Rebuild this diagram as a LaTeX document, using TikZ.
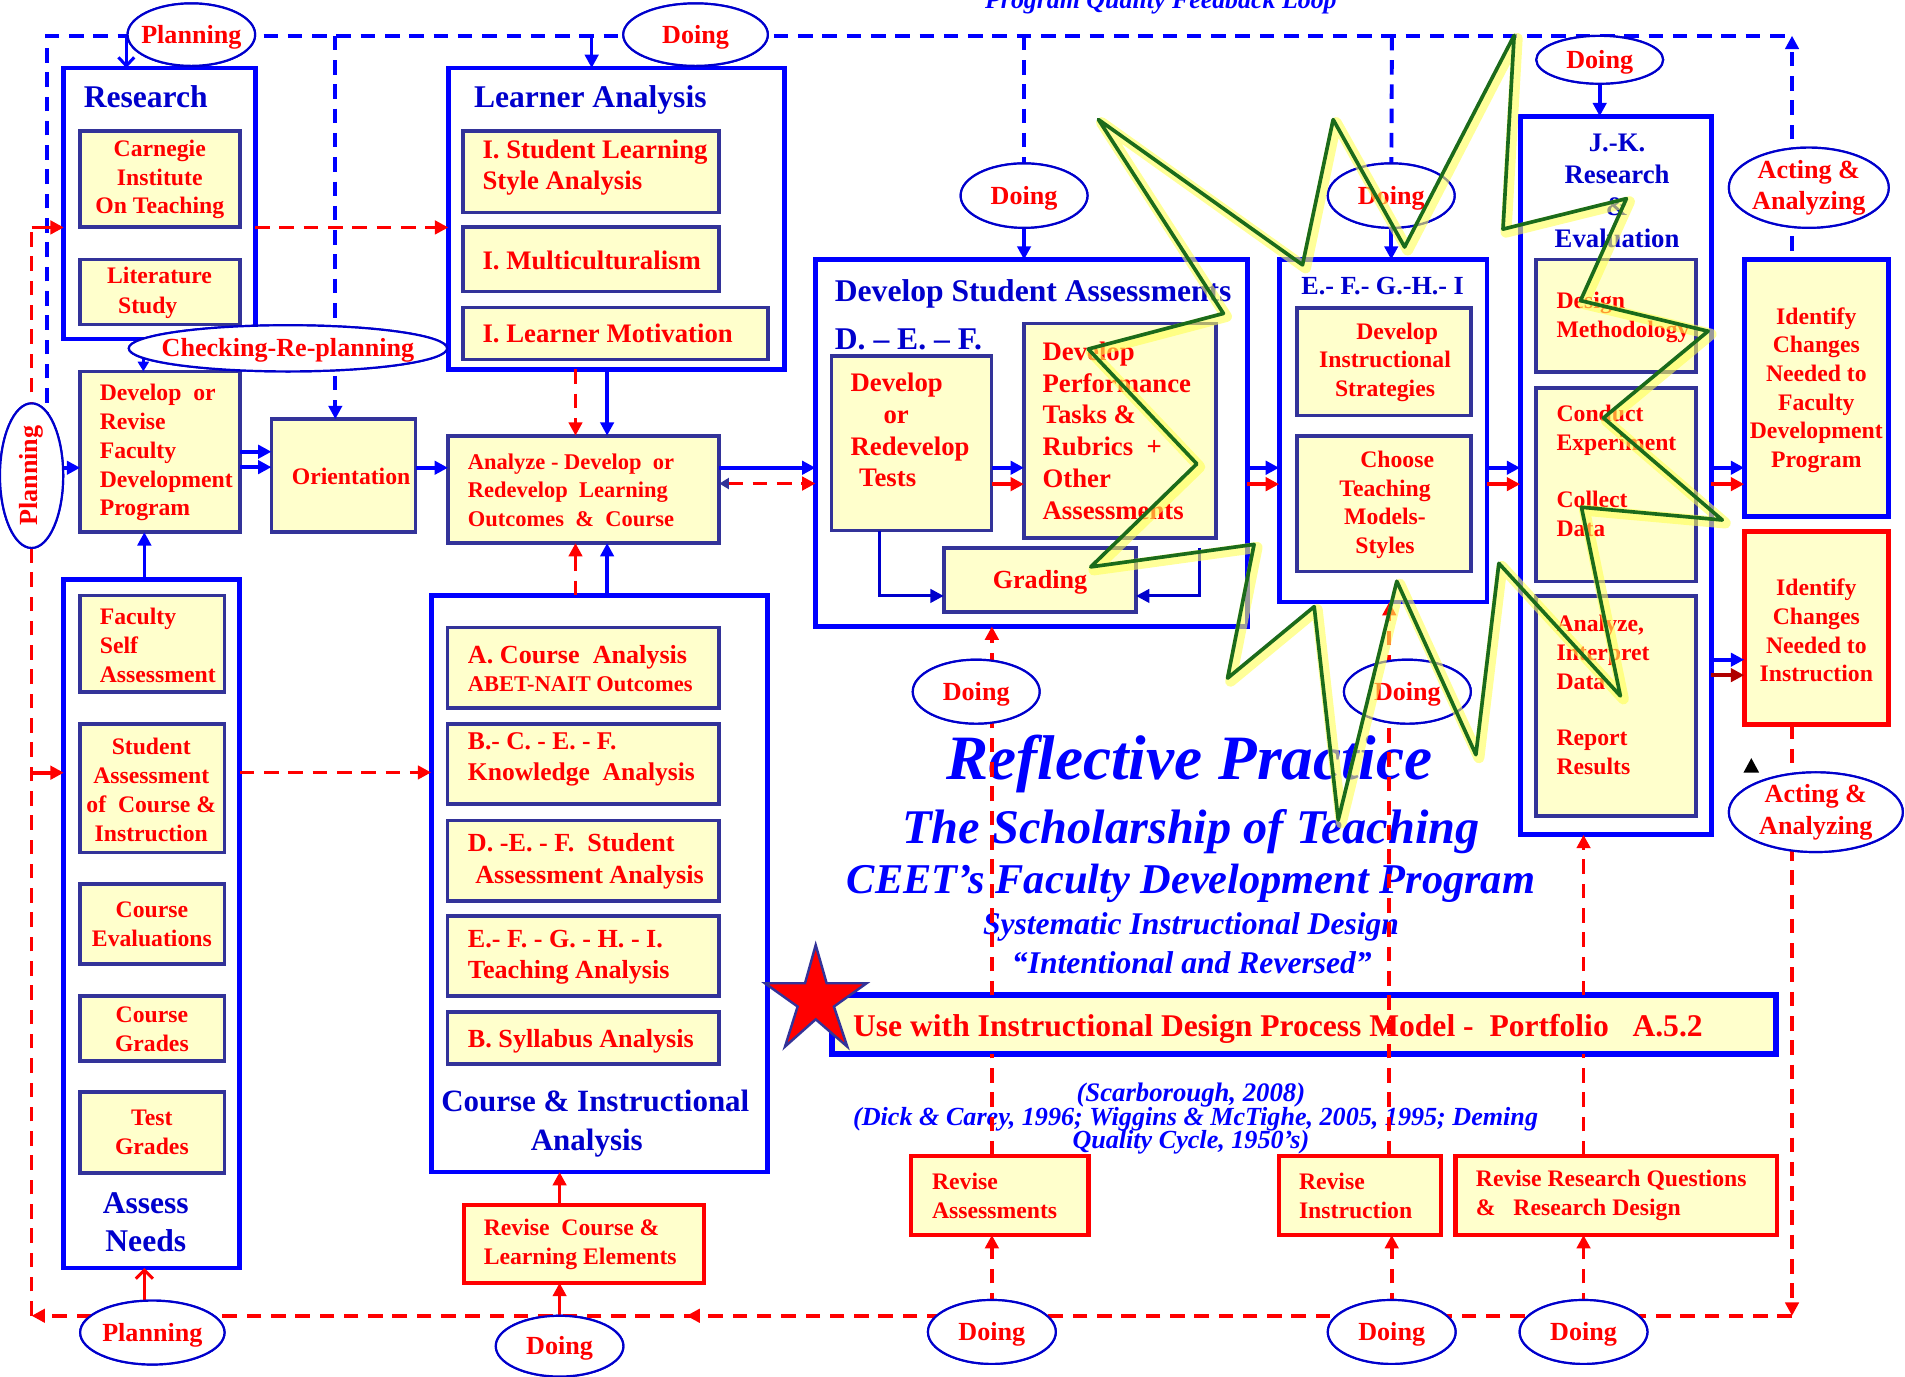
\documentclass[tikz,border=0pt]{standalone}
\usepackage{fontspec}
\setmainfont{Liberation Serif}
\usetikzlibrary{arrows.meta,shapes.geometric,decorations.markings}
\definecolor{bbox}{HTML}{0000FF}
\definecolor{nbox}{HTML}{333399}
\definecolor{yfill}{HTML}{FFFFCC}
\definecolor{tblue}{HTML}{0000CC}
\definecolor{ired}{HTML}{FF0000}
\definecolor{dred}{HTML}{B00000}
\definecolor{sgreen}{HTML}{1B6B1B}
\definecolor{glow}{HTML}{FFFF55}
\newcommand\fz[2]{\fontsize{#1}{#2}\selectfont}
\newcommand\mkbox[6]{\node[#1,minimum width={#4-#2},minimum height={#5-#3}] (#6) at ({(#2+#4)/2},{(#3+#5)/2}) {};}
\newcommand\mkell[5]{\node[el,minimum width={2*#3},minimum height={2*#4}] (#5) at (#1,#2) {};}
\begin{document}
\begin{tikzpicture}[x=1pt,y=-1pt,
  >={Triangle[length=11pt,width=11pt]},
  ob/.style={rectangle,draw=bbox,line width=4,inner sep=0,outer sep=0},
  ib/.style={rectangle,draw=nbox,fill=yfill,line width=3,inner sep=0,outer sep=0},
  rb/.style={rectangle,draw=ired,fill=yfill,line width=3.5,inner sep=0,outer sep=0},
  el/.style={ellipse,draw=tblue,line width=1.8,fill=white,inner sep=0,outer sep=0},
  rt/.style={text=ired,inner sep=0},
  bt/.style={text=tblue,inner sep=0},
  it/.style={text=bbox,inner sep=0,anchor=base},
  bd/.style={draw=bbox,line width=3.2,dash pattern=on 12pt off 8pt},
  rd/.style={draw=ired,line width=3,dash pattern=on 12pt off 8pt},
  ba/.style={draw=bbox,line width=3,->},
  ra/.style={draw=ired,line width=3,->},
  na/.style={draw=tblue,line width=2.5,->},
]
\useasboundingbox (0,0) rectangle (1568,1133);

% ---------- outer boxes ----------
\mkbox{ob}{52.5}{56}{210}{279}{research}
\mkbox{ob}{369}{56}{646}{304}{learner}
\mkbox{ob}{52.5}{477}{197.4}{1043.7}{assess}
\mkbox{ob}{354.9}{490}{632}{964.7}{course}
\mkbox{ob}{671.2}{213.7}{1026.7}{515.6}{dsa}
\mkbox{ob}{1052.8}{213.7}{1223.9}{495.5}{efg}
\mkbox{ob}{1251.2}{95.7}{1408.4}{687.1}{jk}
\mkbox{ob,fill=yfill}{1435.6}{213.7}{1554.6}{425}{id1}
\mkbox{rb,line width=4}{1435.6}{437.4}{1554.6}{596.3}{id2}
\mkbox{ob,fill=yfill,line width=5}{684.5}{819.3}{1461.7}{867.5}{banner}

% ---------- inner boxes ----------
\mkbox{ib}{66}{108}{197.5}{187}{carn}
\mkbox{ib}{66}{213.7}{197.5}{267}{lit}
\mkbox{ib}{66}{305.7}{197.5}{438}{fac}
\mkbox{ib}{223.4}{345}{342}{438}{orient}
\mkbox{ib}{368.7}{358.6}{592}{447}{anal}
\mkbox{ib}{381}{108}{592}{175}{sls}
\mkbox{ib}{381}{187}{592}{240}{mult}
\mkbox{ib}{381}{253}{632}{296}{motiv}
\mkbox{ib}{66}{490}{184.8}{569.4}{fsa}
\mkbox{ib}{66}{596}{184.8}{701.8}{sac}
\mkbox{ib}{66}{727.5}{184.8}{793.5}{cev}
\mkbox{ib}{66}{820}{184.8}{873.3}{cgr}
\mkbox{ib}{66}{898.9}{184.8}{965.6}{tgr}
\mkbox{ib}{368.3}{516.6}{592}{583}{ca}
\mkbox{ib}{368.3}{596}{592}{661.5}{cb}
\mkbox{ib}{368.3}{675.2}{592}{741.6}{cd}
\mkbox{ib}{368.3}{753.7}{592}{820}{ce}
\mkbox{ib}{368.3}{833}{592}{875.8}{cs}
\mkbox{ib}{684.5}{292.9}{816.2}{436.7}{tests}
\mkbox{ib}{842.8}{266.4}{1000.7}{442.8}{perf}
\mkbox{ib}{776.8}{450.8}{935}{503.8}{grad}
\mkbox{ib}{1067.3}{253.6}{1210.6}{342}{dis}
\mkbox{ib}{1067.3}{358.8}{1210.6}{470.3}{cho}
\mkbox{ib}{1264.5}{213.7}{1396.2}{306.4}{dm}
\mkbox{ib}{1264.5}{319.2}{1396.2}{478.7}{cexp}
\mkbox{ib}{1264.5}{490.5}{1396.2}{671.6}{aid}
\mkbox{rb}{382}{991.6}{579.5}{1055.9}{rcl}
\mkbox{rb}{750}{951.2}{896}{1016.5}{ras}
\mkbox{rb}{1053}{951.2}{1185.8}{1016.5}{rin}
\mkbox{rb}{1197.9}{951.2}{1462.4}{1016.5}{rrq}

% ---------- big italic texts ----------
\node[it,font=\bfseries\itshape\fz{21.3}{24}] (prog) at (955.5,7) {Program Quality Feedback Loop};
\node[it,font=\bfseries\itshape\fz{52}{60}] (refl) at (979,642) {Reflective Practice};
\node[it,font=\bfseries\itshape\fz{39.8}{46}] (schol) at (980.3,694.4) {The Scholarship of Teaching};
\node[it,font=\bfseries\itshape\fz{34.9}{40}] (ceet) at (980.3,735.3) {CEET’s Faculty Development Program};
\node[it,font=\bfseries\itshape\fz{26}{30}] (syst) at (980.3,769) {Systematic Instructional Design};
\node[it,font=\bfseries\itshape\fz{26}{30}] (inte) at (981,801.2) {“Intentional and Reversed”};
\node[it,font=\bfseries\itshape\fz{22}{24}] (scar) at (980.2,906.5) {(Scarborough, 2008)};
\node[it,font=\bfseries\itshape\fz{21.5}{24}] (dick) at (984.1,926.7) {(Dick \& Carey, 1996; Wiggins \& McTighe, 2005, 1995; Deming};
\node[it,font=\bfseries\itshape\fz{21.5}{24}] (qual) at (980.2,945.4) {Quality Cycle, 1950’s)};

% ---------- connectors ----------
\coordinate (tl) at (39,29.4);
\coordinate (tr) at (1475,29.4);
\coordinate (bl) at (26,1083);
\coordinate (br) at (1475,1083);
\coordinate (rl) at (26,187.2);

% ellipses defined first as coordinates for lines (drawn later on top)
\mkell{157.5}{28.5}{52.5}{25.7}{pl1}
\mkell{572.5}{28.5}{59.5}{25.7}{do1}
\mkell{237}{286.7}{131}{19}{chk}
\mkell{26}{391.5}{26}{59.5}{pl2}
\mkell{842.9}{161}{52.2}{26.5}{do2}
\mkell{1145.1}{161}{52.2}{26.5}{do3}
\mkell{1316.7}{49.2}{52.2}{19.7}{do4}
\mkell{1488.8}{154.5}{65.8}{33}{ac1}
\mkell{803.5}{569.3}{52.2}{26.3}{do5}
\mkell{1158.4}{569.3}{52.2}{26.3}{do6}
\mkell{1494.6}{668.5}{71.6}{32.8}{ac2}
\mkell{125.4}{1096.8}{59.4}{26.3}{pl3}
\mkell{460.6}{1108}{52.5}{25}{do7}
\mkell{816.4}{1096.3}{52.6}{26.3}{do8}
\mkell{1145.5}{1096.3}{52.6}{26.3}{do9}
\mkell{1303.4}{1096.3}{52.6}{26.3}{do10}

\begin{scope}[on background layer/.style={}]
\end{scope}

% blue dashed loop (top)
\draw[bd] (pl2.center -| tl) -- (tl) -- (tr);
\draw[draw=bbox,line width=2.5,-{Straight Barb[length=7pt,width=13pt]}] (tl -| 104,0) -- (research.north -| 104,0);
\draw[bd,->] (tl -| 276,0) -- (orient.north -| 276,0);
\draw[ba] (tl -| 487,0) -- (learner.north -| 487,0);
\draw[bd] (tl -| 842.9,0) -- (do2.center);
\draw[ba] (do2.south) -- (dsa.north -| do2.south);
\draw[bd] (tl -| 1145.7,0) -- (do3.center);
\draw[ba] (do3.south) -- (efg.north -| do3.south);
\draw[ba] (do4.south) -- (jk.north -| do4.south);
\draw[bd,->] (ac1.center -| tr) -- (tr);
\draw[bd] (ac1.center -| tr) -- (id1.north -| tr);

% red dashed loop (bottom / left)
\draw[rd,->] (id2.south -| tr) -- (br);
\draw[rd,->,postaction={decorate,decoration={markings,mark=at position 0.628 with {\arrow{>}}}}] (br) -- (bl);
\draw[rd] (bl) -- (rl);
\draw[ra] (rl) -- (research.west |- rl);
\draw[ra] (bl |- 0,636) -- (assess.west |- 0,636);

% left column
\draw[rd,->] (research.east |- rl) -- (learner.west |- rl);
\draw[rd,->] (learner.south -| 473.7,0) -- (anal.north -| 473.7,0);
\draw[ba] (learner.south -| 499.7,0) -- (anal.north -| 499.7,0);
\draw[rd,->] (course.north -| 473.7,0) -- (anal.south -| 473.7,0);
\draw[ba] (course.north -| 499.7,0) -- (anal.south -| 499.7,0);
\draw[ba] (fac.east |- 0,371.8) -- (orient.west |- 0,371.8);
\draw[ba] (fac.east |- 0,384.5) -- (orient.west |- 0,384.5);
\draw[ba] (orient.east |- 0,385) -- (anal.west |- 0,385);
\draw[ba] (pl2.east |- 0,385) -- (fac.west |- 0,385);
\draw[draw=bbox,line width=2.5,-{Triangle[length=8pt,width=9pt]}] (chk.center -| 118,0) -- (fac.north -| 118,0);
\draw[ba] (assess.north -| 118.8,0) -- (fac.south -| 118.8,0);
\draw[rd,->] (assess.east |- 0,635.8) -- (course.west |- 0,635.8);
\draw[draw=ired,line width=2.5,-{Straight Barb[length=7pt,width=14pt]}] (pl3.center -| 118.8,0) -- (assess.south -| 118.8,0);
\draw[ra] (do7.center) -- (rcl.south -| do7.center);
\draw[ra] (rcl.north -| do7.center) -- (course.south -| do7.center);

% main chain
\draw[ba] (anal.east |- 0,385) -- (dsa.west |- 0,385);
\draw[rd,arrows={Triangle[length=8pt,width=9pt,color=nbox]-Triangle[length=11pt,width=11pt]}] (anal.east |- 0,398) -- (dsa.west |- 0,398);
\foreach \a/\b in {dsa/efg,efg/jk,jk/id1,tests/perf}{
  \draw[ba] (\a.east |- 0,385) -- (\b.west |- 0,385);
  \draw[ra] (\a.east |- 0,398.5) -- (\b.west |- 0,398.5);
}
\draw[ba] (jk.east |- 0,543) -- (id2.west |- 0,543);
\draw[ra,draw=dred] (jk.east |- 0,555.7) -- (id2.west |- 0,555.7);
\draw[na] (tests.south -| 724,0) |- (grad.west |- 0,490.5);
\draw[na] (grad.north -| 987.3,0) |- (grad.east |- 0,490.5);

% red verticals from the bottom
\draw[rd,->] (do8.center) -- (ras.south -| do8.center);
\draw[rd] (ras.north -| do8.center) -- (banner.south -| do8.center);
\draw[rd] (banner.north -| do8.center) -- (do5.center -| do8.center);
\draw[rd,->] (do5.center -| do8.center) -- (dsa.south -| do8.center);
\draw[rd,->] (do9.center) -- (rin.south -| do9.center);
\draw[rd,->] (rin.north -| 1143.5,0) -- (efg.south -| 1143.5,0);
\draw[rd,->] (do10.center) -- (rrq.south -| do10.center);
\draw[rd] (rrq.north -| do10.center) -- (banner.south -| do10.center);
\draw[rd,->] (banner.north -| do10.center) -- (jk.south -| do10.center);

% ---------- ellipses on top ----------
\mkell{157.5}{28.5}{52.5}{25.7}{pl1}
\mkell{572.5}{28.5}{59.5}{25.7}{do1}
\mkell{237}{286.7}{131}{19}{chk}
\mkell{26}{391.5}{26}{59.5}{pl2}
\mkell{842.9}{161}{52.2}{26.5}{do2}
\mkell{1145.1}{161}{52.2}{26.5}{do3}
\mkell{1316.7}{49.2}{52.2}{19.7}{do4}
\mkell{1488.8}{154.5}{65.8}{33}{ac1}
\mkell{803.5}{569.3}{52.2}{26.3}{do5}
\mkell{1158.4}{569.3}{52.2}{26.3}{do6}
\mkell{1494.6}{668.5}{71.6}{32.8}{ac2}
\mkell{125.4}{1096.8}{59.4}{26.3}{pl3}
\mkell{460.6}{1108}{52.5}{25}{do7}
\mkell{816.4}{1096.3}{52.6}{26.3}{do8}
\mkell{1145.5}{1096.3}{52.6}{26.3}{do9}
\mkell{1303.4}{1096.3}{52.6}{26.3}{do10}

\foreach \e/\t in {pl1/Planning,do1/Doing,do2/Doing,do3/Doing,do4/Doing,do5/Doing,do6/Doing,pl3/Planning,do7/Doing,do8/Doing,do9/Doing,do10/Doing,chk/Checking-Re-planning}{
  \node[rt,font=\bfseries\fz{21.5}{26},anchor=base,yshift=-7pt] (\e-t) at (\e) {\t};
}
\node[rt,font=\bfseries\fz{21.5}{26},rotate=90] (pl2-t) at (pl2) {Planning};
\node[rt,font=\bfseries\fz{21.5}{26},align=center] (ac1-t) at (ac1) {Acting \&\\Analyzing};
\node[rt,font=\bfseries\fz{21.5}{26},align=center] (ac2-t) at (ac2) {Acting \&\\Analyzing};

% ---------- box texts ----------
\node[bt,font=\bfseries\fz{26}{30},anchor=base] (research-t) at (120,88.5) {Research};
\node[bt,font=\bfseries\fz{26}{30},anchor=base west] (learner-t) at (390,88.5) {Learner Analysis};
\node[rt,font=\bfseries\fz{19.5}{23.5},align=center] (carn-t) at (131.5,148) {Carnegie\\Institute\\On Teaching};
\node[rt,font=\bfseries\fz{19.5}{24},align=left,anchor=west] (lit-t) at (88,241) {Literature\\\hspace*{9pt}Study};
\node[rt,font=\bfseries\fz{22}{26},align=left,anchor=west] (sls-t) at (397,138) {I. Student Learning\\Style Analysis};
\node[rt,font=\bfseries\fz{22}{26},anchor=base west] (mult-t) at (397,221.5) {I. Multiculturalism};
\node[rt,font=\bfseries\fz{22}{26},anchor=base west] (motiv-t) at (397,282.3) {I. Learner Motivation};
\node[rt,font=\bfseries\fz{19.5}{23.75},align=left,anchor=west] (fac-t) at (82,372.5) {Develop\ \ or\\Revise\\Faculty\\Development\\Program};
\node[rt,font=\bfseries\fz{19.5}{24},anchor=base] (orient-t) at (289,398.5) {Orientation};
\node[rt,font=\bfseries\fz{18.5}{23.5},align=left,anchor=west] (anal-t) at (385,403.5) {Analyze - Develop\ \ or\\Redevelop\ \ Learning\\Outcomes\ \ \&\ \ Course};

\node[rt,font=\bfseries\fz{19.5}{24},align=left,anchor=west] (fsa-t) at (82,531) {Faculty\\Self\\Assessment};
\node[rt,font=\bfseries\fz{19.5}{24},align=center] (sac-t) at (124.5,650) {Student\\Assessment\\of\ \ Course \&\\Instruction};
\node[rt,font=\bfseries\fz{19.5}{24},align=center] (cev-t) at (125,761) {Course\\Evaluations};
\node[rt,font=\bfseries\fz{19.5}{24},align=center] (cgr-t) at (125,847) {Course\\Grades};
\node[rt,font=\bfseries\fz{19.5}{24},align=center] (tgr-t) at (125,932) {Test\\Grades};
\node[bt,font=\bfseries\fz{26}{32},align=center] (assess-t) at (120,1006) {Assess\\Needs};

\node[rt,font=\bfseries\fz{21.5}{24},anchor=base west] (ca-t1) at (385,546.2) {A. Course\ \ Analysis};
\node[rt,font=\bfseries\fz{18.5}{24},anchor=base west] (ca-t2) at (385,569.1) {ABET-NAIT Outcomes};
\node[rt,font=\bfseries\fz{21}{26},align=left,anchor=west] (cb-t) at (385,625) {B.- C. - E. - F.\\Knowledge\ \ Analysis};
\node[rt,font=\bfseries\fz{21.5}{26},align=left,anchor=west] (cd-t) at (385,709) {D. -E. - F.\ \ Student\\\hspace*{6pt}Assessment Analysis};
\node[rt,font=\bfseries\fz{21.5}{26},align=left,anchor=west] (ce-t) at (385,788) {E.- F. - G. - H. - I.\\Teaching Analysis};
\node[rt,font=\bfseries\fz{21.5}{26},anchor=base west] (cs-t) at (385,862) {B. Syllabus Analysis};
\node[bt,font=\bfseries\fz{25.5}{32},align=center] (course-t) at (490,925) {Course \& Instructional\\\hspace*{-14pt}Analysis};
\node[rt,font=\bfseries\fz{19.5}{24},align=left,anchor=west] (rcl-t) at (398,1024) {Revise\ \ Course \&\\Learning Elements};

\node[bt,font=\bfseries\fz{26}{30},anchor=base west] (dsa-t) at (687,247.8) {Develop Student Assessments};
\node[bt,font=\bfseries\fz{26}{30},anchor=base west] (def-t) at (687,287.4) {D. -- E. -- F.};
\node[rt,font=\bfseries\fz{22}{26},align=left,anchor=west] (tests-t) at (700,354) {Develop\\\hspace*{27pt}or\\Redevelop\\\hspace*{7pt}Tests};
\node[rt,font=\bfseries\fz{22}{26.2},align=left,anchor=west] (perf-t) at (858,354.5) {Develop\\Performance\\Tasks \&\\Rubrics\ \ +\\Other\\Assessments};
\node[rt,font=\bfseries\fz{21.5}{26},anchor=base] (grad-t) at (856,484.5) {Grading};

\node[bt,font=\bfseries\fz{21.5}{26},anchor=base] (efg-t) at (1138,242.3) {E.- F.- G.-H.- I};
\node[rt,font=\bfseries\fz{19.5}{23.5},align=center] (dis-t) at (1140,298) {\hspace*{20pt}Develop\\Instructional\\Strategies};
\node[rt,font=\bfseries\fz{19.5}{23.7},align=center] (cho-t) at (1140,415.5) {\hspace*{20pt}Choose\\Teaching\\Models-\\Styles};

\node[bt,font=\bfseries\fz{22}{26.3},align=center] (jk-t) at (1331,157) {J.-K.\\Research\\\&\\Evaluation};
\node[rt,font=\bfseries\fz{19.5}{24},align=left,anchor=west] (dm-t) at (1281,261) {Design\\Methodology};
\node[rt,font=\bfseries\fz{19.5}{24},align=left,anchor=west] (cexp-t) at (1281,387.5) {Conduct\\Experiment\\[23pt]Collect\\Data};
\node[rt,font=\bfseries\fz{19.5}{23.5},align=left,anchor=west] (aid-t) at (1281,572) {Analyze,\\Interpret\\Data\\[23pt]Report\\Results};

\node[rt,font=\bfseries\fz{19.5}{23.6},align=center] (id1-t) at (1495,321) {Identify\\Changes\\Needed to\\Faculty\\Development\\Program};
\node[rt,font=\bfseries\fz{19.5}{23.6},align=center] (id2-t) at (1495,519) {Identify\\Changes\\Needed to\\Instruction};

\node[rt,font=\bfseries\fz{19.5}{24},align=left,anchor=west] (ras-t) at (767,984) {Revise\\Assessments};
\node[rt,font=\bfseries\fz{19.5}{24},align=left,anchor=west] (rin-t) at (1069,984) {Revise\\Instruction};
\node[rt,font=\bfseries\fz{19.5}{24},align=left,anchor=west] (rrq-t) at (1214.6,984) {Revise Research Questions\\\&\ \ \ Research Design};
\node[rt,font=\bfseries\fz{26}{30},anchor=base west] (banner-t) at (702,853.2) {Use with Instructional Design Process Model -\ \ Portfolio\ \ \ A.5.2};

% ---------- red star ----------
\draw[fill=ired,draw=nbox,line width=2,line join=miter] (671.4,777.8) -- (680.4,809.3) -- (713.3,809.3) -- (686.4,828.5) -- (697.4,861.5) -- (671.4,839) -- (646.1,861.5) -- (656.5,828.5) -- (629.6,809.3) -- (662.6,809.3) -- cycle;

% small black triangle
\fill[black] (1435,636) -- (1448,636) -- (1441.5,624) -- cycle;

% ---------- lightning starburst ----------
\def\burst{(904.1,98.4) -- (1072.1,218.0) -- (1097.3,98.4) -- (1156.1,203.3) -- (1246.3,29.1) -- (1237.1,188.6) -- (1338.7,163.5) -- (1300.9,247.4) -- (1405.9,272.6) -- (1319.8,344.0) -- (1417.6,428.0) -- (1301.7,417.5) -- (1333.7,572.8) -- (1233.7,463.7) -- (1214.8,621.2) -- (1149.7,478.4) -- (1101.5,674.9) -- (1081.7,499.3) -- (1010.4,558.2) -- (1032.2,448.1) -- (897.8,466.6) -- (985.1,381.8) -- (895.7,287.3) -- (1007.0,258.0) -- cycle}
\draw[draw=glow,line width=9,opacity=0.6,line join=round,shift={(2.5,2.5)}] \burst;
\draw[draw=sgreen,line width=3,line join=round] \burst;
\end{tikzpicture}
\end{document}
